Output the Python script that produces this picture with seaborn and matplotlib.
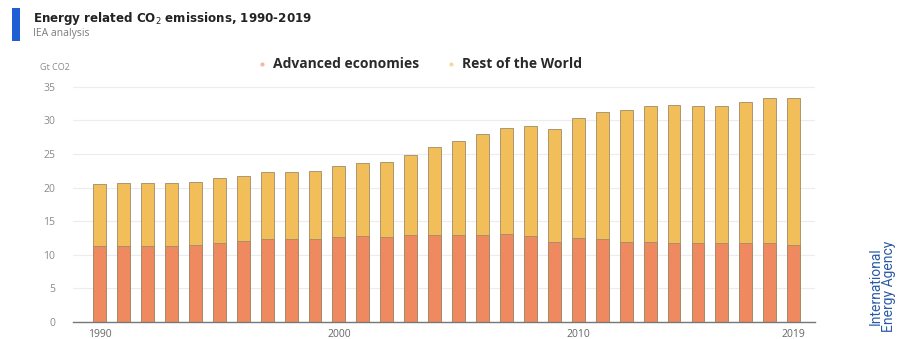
import numpy as np
import pandas as pd
import matplotlib.pyplot as plt
import seaborn as sns
from matplotlib.patches import Rectangle
from matplotlib.lines import Line2D

# data (Gt CO2)
years = list(range(1990, 2020))
advanced = [11.3, 11.3, 11.3, 11.3, 11.5, 11.8, 12.0, 12.3, 12.3, 12.4,
            12.7, 12.8, 12.7, 12.9, 13.0, 13.0, 13.0, 13.1, 12.8, 11.9,
            12.5, 12.3, 11.9, 11.9, 11.8, 11.8, 11.7, 11.7, 11.8, 11.4]
rest_of_world = [9.2, 9.4, 9.4, 9.4, 9.3, 9.6, 9.7, 10.0, 10.0, 10.1,
                 10.5, 10.8, 11.1, 12.0, 13.0, 13.9, 15.0, 15.8, 16.4, 16.8,
                 17.9, 19.0, 19.7, 20.3, 20.5, 20.4, 20.5, 21.0, 21.5, 21.9]
series_names = ["Advanced economies", "Rest of the World"]
tick_years = [1990, 2000, 2010, 2019]
y_ticks = [0, 5, 10, 15, 20, 25, 30, 35]

col_adv = "#EF8A60"
col_row = "#F2BE5A"

df = pd.DataFrame({"year": years, "adv": advanced, "row": rest_of_world})
df["total"] = df["adv"] + df["row"]

sns.set_style("white")
plt.rcParams['font.family'] = ['Open Sans', 'DejaVu Sans']

fig = plt.figure(figsize=(9.16, 3.39), dpi=100)
ax = fig.add_axes([0.08, 0.05, 0.81, 0.70])

# stacked bars: total in yellow, advanced drawn over it from zero
sns.barplot(data=df, x="year", y="total", color=col_row, native_scale=True,
            saturation=1, width=0.54, edgecolor="#a08a68", linewidth=0.6, ax=ax)
sns.barplot(data=df, x="year", y="adv", color=col_adv, native_scale=True,
            saturation=1, width=0.54, edgecolor="#a08a68", linewidth=0.6, ax=ax)

ax.set_ylim(0, 35.3)
ax.set_xlim(1988.9, 2019.9)
ax.set_yticks(y_ticks)
ax.set_xticks(tick_years)
ax.set_xticklabels([str(y) for y in tick_years])
ax.set_xlabel("")
ax.set_ylabel("")
ax.grid(axis="y", color="#ececec", linewidth=0.8)
ax.set_axisbelow(True)
for s in ["top", "right", "left"]:
    ax.spines[s].set_visible(False)
ax.spines["bottom"].set_color("#777777")
ax.spines["bottom"].set_linewidth(1.0)
ax.tick_params(axis="y", length=0, labelsize=7.5, labelcolor="#8a8a8a", pad=13)
ax.tick_params(axis="x", length=4, width=0.8, color="#777777", labelsize=7.5,
               labelcolor="#666666", pad=1, direction="out")

# titles
fig.patches.append(Rectangle((0.013, 0.88), 0.009, 0.095, transform=fig.transFigure,
                             facecolor="#1f5fd6", edgecolor="none"))
fig.text(0.036, 0.935, "Energy related CO$_2$ emissions, 1990-2019", fontsize=8.6,
         fontweight="bold", color="#222222", va="baseline",
         family=["DejaVu Sans"])
fig.text(0.036, 0.895, "IEA analysis", fontsize=7.5, color="#7a7a7a", va="baseline")
fig.text(0.044, 0.80, "Gt CO2", fontsize=6.5, color="#8a8a8a", va="center")

handles = [Line2D([], [], marker="o", linestyle="", markersize=3,
                  markerfacecolor=c, markeredgecolor="none", alpha=0.6)
           for c in [col_adv, col_row]]
leg = fig.legend(handles, series_names, loc="center", bbox_to_anchor=(0.457, 0.81),
                 ncol=2, frameon=False, fontsize=10, handletextpad=0.3,
                 columnspacing=1.8, handlelength=1.0)
for t in leg.get_texts():
    t.set_fontweight("bold")
    t.set_color("#2a2a2a")

# IEA logo text
fig.text(0.963, 0.02, "International\nEnergy Agency", rotation=90, fontsize=10,
         color="#2b5aa8", ha="center", va="bottom", linespacing=0.95,
         family=["Liberation Sans Narrow", "Roboto", "DejaVu Sans"])

fig.savefig("out.png", dpi=100)
